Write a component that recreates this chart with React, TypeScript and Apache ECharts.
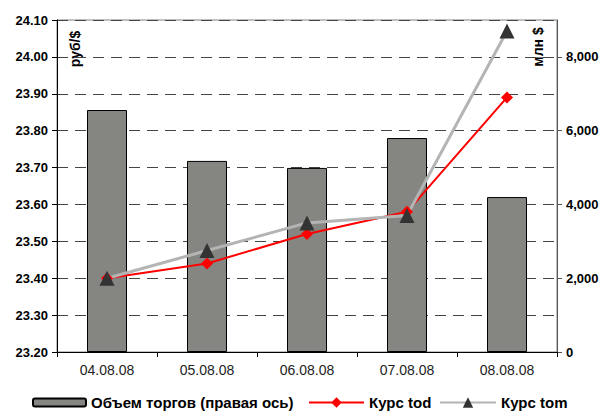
import React, { useEffect, useRef } from "react";
import * as echarts from "echarts";

const categories = ["04.08.08", "05.08.08", "06.08.08", "07.08.08", "08.08.08"];
const volume = [6560, 5180, 4990, 5800, 4200];
const kursTod = [23.4, 23.44, 23.52, 23.58, 23.89];
const kursTom = [23.4, 23.475, 23.55, 23.57, 24.07];
const leftTicks = { min: 23.2, max: 24.1, interval: 0.1 };
const rightTicks = { min: 0, max: 9000, interval: 2000 };

const FONT = "'Liberation Sans', Arial, sans-serif";

const legendText = { fontFamily: FONT, fontWeight: "bold", fontSize: 15, color: "#000" };

export default function App() {
  const ref = useRef<HTMLDivElement>(null);
  useEffect(() => {
    if (!ref.current) return;
    const chart = echarts.init(ref.current, undefined, { renderer: "svg" });
    chart.setOption({
      animation: false,
      backgroundColor: "#ffffff",
      textStyle: { fontFamily: FONT },
      grid: {
        left: 57,
        right: 49,
        top: 20,
        bottom: 60,
        show: true,
        borderColor: "#808080",
        borderWidth: 1,
      },
      legend: [
        {
          data: ["Объем торгов (правая ось)"],
          left: 32,
          top: 395,
          padding: 0,
          itemWidth: 53,
          itemHeight: 8,
          textStyle: legendText,
        },
        {
          data: ["Курс tod"],
          left: 308,
          top: 395,
          padding: 0,
          itemWidth: 55,
          itemHeight: 13,
          textStyle: legendText,
        },
        {
          data: ["Курс tom"],
          left: 439,
          top: 395,
          padding: 0,
          itemWidth: 56,
          itemHeight: 13,
          textStyle: legendText,
        },
      ],
      xAxis: {
        type: "category",
        data: categories,
        boundaryGap: true,
        axisLine: { lineStyle: { color: "#000", width: 1 } },
        axisTick: { show: true, length: 5, lineStyle: { color: "#000" } },
        axisLabel: { fontFamily: FONT, fontSize: 14, color: "#222", margin: 11 },
      },
      yAxis: [
        {
          type: "value",
          min: leftTicks.min,
          max: leftTicks.max,
          interval: leftTicks.interval,
          position: "left",
          axisLine: { show: true, lineStyle: { color: "#000", width: 1 } },
          axisTick: { show: true, length: 5, lineStyle: { color: "#000" } },
          axisLabel: {
            fontFamily: FONT,
            fontSize: 13,
            fontWeight: "bold",
            color: "#000",
            margin: 9,
            formatter: (v: number) => v.toFixed(2),
          },
          splitLine: { show: true, lineStyle: { color: "#444", type: [11, 7], width: 1 } },
        },
        {
          type: "value",
          min: rightTicks.min,
          max: rightTicks.max,
          interval: rightTicks.interval,
          position: "right",
          axisLine: { show: true, lineStyle: { color: "#555", width: 1 } },
          axisTick: { show: true, length: 5, lineStyle: { color: "#555" } },
          axisLabel: {
            fontFamily: FONT,
            fontSize: 13,
            fontWeight: "bold",
            color: "#000",
            margin: 9,
            showMaxLabel: false,
            formatter: (v: number) => v.toLocaleString("en-US"),
          },
          splitLine: { show: false },
        },
      ],
      series: [
        {
          name: "Объем торгов (правая ось)",
          type: "bar",
          yAxisIndex: 1,
          data: volume,
          barWidth: "40%",
          itemStyle: { color: "#858582", borderColor: "#000", borderWidth: 1 },
        },
        {
          name: "Курс tod",
          type: "line",
          yAxisIndex: 0,
          data: kursTod,
          symbol: "diamond",
          symbolSize: 12,
          lineStyle: { color: "#ff0000", width: 2 },
          itemStyle: { color: "#ff0000" },
        },
        {
          name: "Курс tom",
          type: "line",
          yAxisIndex: 0,
          data: kursTom,
          symbol: "triangle",
          symbolSize: 15,
          lineStyle: { color: "#b4b4b4", width: 3 },
          itemStyle: { color: "#333333" },
        },
      ],
      graphic: [
        {
          type: "text",
          x: 75,
          y: 49,
          rotation: Math.PI / 2,
          style: {
            text: "руб/$",
            x: 0,
            y: 0,
            align: "center",
            verticalAlign: "middle",
            fontFamily: FONT,
            fontSize: 14,
            fontWeight: "bold",
            fill: "#000",
          },
        },
        {
          type: "text",
          x: 538,
          y: 47,
          rotation: Math.PI / 2,
          style: {
            text: "млн $",
            x: 0,
            y: 0,
            align: "center",
            verticalAlign: "middle",
            fontFamily: FONT,
            fontSize: 14,
            fontWeight: "bold",
            fill: "#000",
          },
        },
      ],
    });
    return () => chart.dispose();
  }, []);
  return (
    <div
      ref={ref}
      style={{ position: "fixed", left: 0, top: 0, width: 606, height: 412 }}
    />
  );
}
